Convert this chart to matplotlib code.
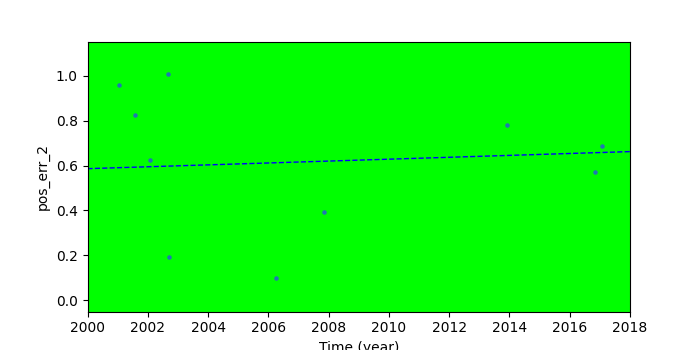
import matplotlib
matplotlib.use("Agg")
import matplotlib.pyplot as plt

# observed points
years = [2001.06, 2001.56, 2002.06, 2002.66, 2002.72, 2006.25, 2007.84, 2013.92, 2016.84, 2017.08]
pos_err = [0.960, 0.826, 0.625, 1.009, 0.192, 0.098, 0.393, 0.781, 0.571, 0.688]

# trend line end points
trend_years = [2000, 2018]
trend_vals = [0.586, 0.662]

fig, ax = plt.subplots(figsize=(7, 3.5), dpi=100)
ax.set_facecolor("#00ff00")
ax.scatter(years, pos_err, s=5, color="C0", zorder=3)
ax.plot(trend_years, trend_vals, "b--", linewidth=1)

ax.set_xlim(2000, 2018)
ax.set_ylim(-0.05, 1.15)
ax.set_xticks(range(2000, 2019, 2))
ax.set_xlabel("Time (year)")
ax.set_ylabel("pos_err_2")

plt.savefig("out.png")
